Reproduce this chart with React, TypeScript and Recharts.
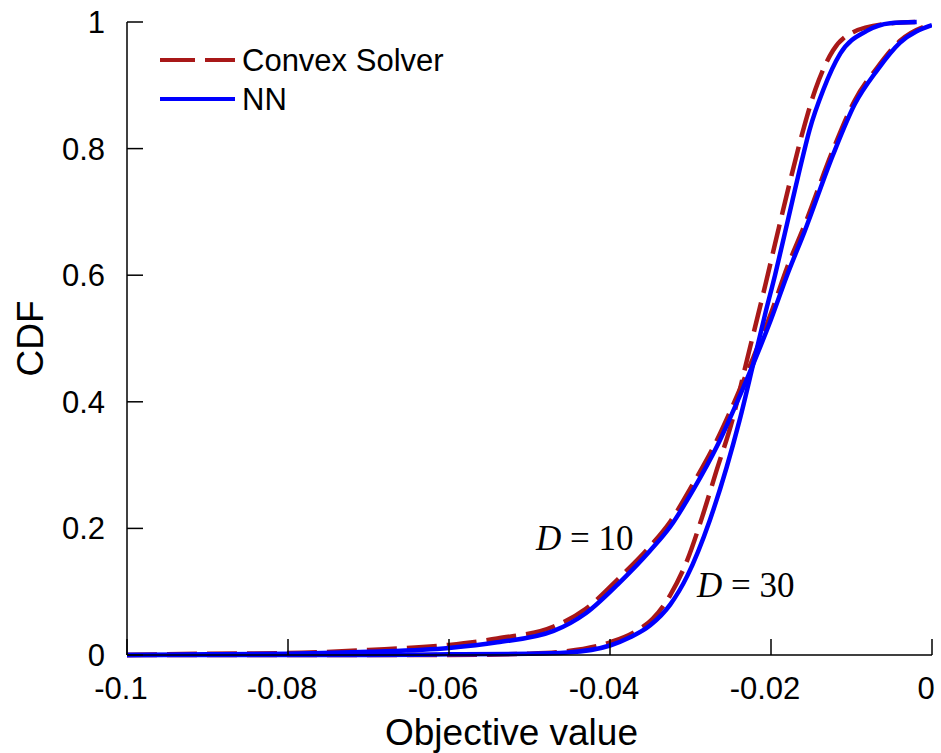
import { LineChart, Line, XAxis, YAxis, ReferenceDot } from "recharts";

// D = 10: both methods sampled on the same objective grid
const d10X = [
  -0.1, -0.09, -0.08, -0.07, -0.06, -0.054, -0.047, -0.043, -0.039, -0.035,
  -0.0325, -0.0297, -0.0267, -0.0242, -0.0222, -0.02, -0.018, -0.0158,
  -0.0123, -0.0096, -0.0068, -0.004, 0,
];
const d10Nn = [
  0, 0.001, 0.002, 0.005, 0.011, 0.02, 0.038, 0.066, 0.112, 0.165, 0.203,
  0.26, 0.33, 0.4, 0.46, 0.53, 0.6, 0.67, 0.79, 0.87, 0.924, 0.967, 0.995,
];
const d10Cvx = [
  0, 0.002, 0.003, 0.008, 0.016, 0.026, 0.045, 0.073, 0.12, 0.172, 0.211,
  0.27, 0.34, 0.41, 0.47, 0.54, 0.612, 0.68, 0.798, 0.876, 0.928, 0.97, 0.997,
];

// D = 30
const d30NnX = [
  -0.1, -0.07, -0.06, -0.05, -0.0453, -0.04, -0.0375, -0.035, -0.0325,
  -0.0304, -0.0276, -0.0255, -0.0239, -0.0222, -0.0207, -0.0195, -0.0183,
  -0.0173, -0.016, -0.0152, -0.0135, -0.0114, -0.0081, -0.0052, -0.0019,
];
const d30Nn = [
  0, 0, 0.001, 0.002, 0.004, 0.015, 0.028, 0.047, 0.08, 0.125, 0.213, 0.297,
  0.371, 0.46, 0.54, 0.6, 0.665, 0.72, 0.79, 0.83, 0.893, 0.95, 0.986, 0.998, 1,
];
const d30CvxX = [
  -0.1, -0.06, -0.05, -0.046, -0.04, -0.037, -0.0347, -0.0325, -0.0304,
  -0.0284, -0.0268, -0.0248, -0.0231, -0.0206, -0.0191, -0.0176, -0.0162,
  -0.0145, -0.0123, -0.0098, -0.0058, -0.0021,
];
const d30Cvx = [
  0, 0, 0.002, 0.005, 0.02, 0.036, 0.057, 0.095, 0.15, 0.224, 0.29, 0.371,
  0.46, 0.59, 0.671, 0.75, 0.82, 0.893, 0.955, 0.984, 0.997, 1,
];

const xTicks = [-0.1, -0.08, -0.06, -0.04, -0.02, 0];
const xTickLabels = ["-0.1", "-0.08", "-0.06", "-0.04", "-0.02", "0"];
const yTicks = [0, 0.2, 0.4, 0.6, 0.8, 1];
const yTickLabels = ["0", "0.2", "0.4", "0.6", "0.8", "1"];

const seriesNames = ["Convex Solver", "NN"];
const curveLabels = [
  { text: "10", x: -0.0492, y: 0.166 },
  { text: "30", x: -0.0292, y: 0.0916 },
];

const RED = "#a81818";
const BLUE = "#0000ff";
const SANS = "'Liberation Sans', Arial, Helvetica, sans-serif";
const SERIF = "'Liberation Serif', 'Times New Roman', serif";

const zip = (xs: number[], ys: number[]) => xs.map((x, i) => ({ x, y: ys[i] }));

const d10NnData = zip(d10X, d10Nn);
const d10CvxData = zip(d10X, d10Cvx);
const d30NnData = zip(d30NnX, d30Nn);
const d30CvxData = zip(d30CvxX, d30Cvx);

// legend sits inside the axes, top-left, without taking layout space
function LegendBox() {
  return (
    <svg
      width={320}
      height={80}
      style={{ position: "absolute", left: 150, top: 35, display: "block" }}
    >
      <line x1={10} x2={85} y1={25} y2={25} stroke={RED} strokeWidth={4} strokeDasharray="35 10" />
      <line x1={10} x2={85} y1={64} y2={64} stroke={BLUE} strokeWidth={4} />
      <text x={92} y={25} dominantBaseline="central" fontFamily={SANS} fontSize={31} fill="#000">
        {seriesNames[0]}
      </text>
      <text x={92} y={64} dominantBaseline="central" fontFamily={SANS} fontSize={31} fill="#000">
        {seriesNames[1]}
      </text>
    </svg>
  );
}

function curveLabel(text: string) {
  return (props: any) => {
    const vb = props.viewBox || {};
    return (
      <text x={vb.x} y={vb.y} fontFamily={SERIF} fontSize={35} fill="#000">
        <tspan fontStyle="italic">D</tspan>
        <tspan> = {text}</tspan>
      </text>
    );
  };
}

export default function App() {
  return (
    <div style={{ position: "absolute", left: 0, top: 0, width: 941, height: 753, background: "#fff" }}>
      <LineChart
        width={941}
        height={753}
        margin={{ top: 22, right: 9, left: 0, bottom: 0 }}
      >
        <XAxis
          type="number"
          dataKey="x"
          domain={[-0.1, 0]}
          ticks={xTicks}
          allowDataOverflow
          height={98}
          axisLine={{ stroke: "#000", strokeWidth: 1.5 }}
          tickLine={{ stroke: "#000", strokeWidth: 1.5 }}
          tickSize={-16}
          tickMargin={38}
          tick={{ fill: "#000", fontSize: 31, fontFamily: SANS, dx: -6 }}
          tickFormatter={(v: number) => xTickLabels[xTicks.indexOf(v)] ?? String(v)}
          label={(props: any) => {
            const vb = props.viewBox || {};
            return (
              <text
                x={vb.x + vb.width / 2 - 18}
                y={745}
                textAnchor="middle"
                fontFamily={SANS}
                fontSize={37}
                fill="#000"
              >
                Objective value
              </text>
            );
          }}
        />
        <YAxis
          type="number"
          dataKey="y"
          domain={[0, 1]}
          ticks={yTicks}
          width={127}
          axisLine={{ stroke: "#000", strokeWidth: 1.5 }}
          tickLine={{ stroke: "#000", strokeWidth: 1.5 }}
          tickSize={-16}
          tickMargin={38}
          tick={{ fill: "#000", fontSize: 31, fontFamily: SANS }}
          tickFormatter={(v: number) => yTickLabels[yTicks.indexOf(v)] ?? String(v)}
          label={(props: any) => {
            const vb = props.viewBox || {};
            const cx = 30;
            const cy = vb.y + vb.height / 2;
            return (
              <text
                x={cx}
                y={cy}
                transform={`rotate(-90, ${cx}, ${cy})`}
                textAnchor="middle"
                dominantBaseline="central"
                fontFamily={SANS}
                fontSize={37}
                fill="#000"
              >
                CDF
              </text>
            );
          }}
        />
        <Line
          data={d10CvxData}
          dataKey="y"
          type="monotone"
          stroke={RED}
          strokeWidth={4.5}
          strokeDasharray="30 10"
          dot={false}
          isAnimationActive={false}
        />
        <Line
          data={d30CvxData}
          dataKey="y"
          type="monotone"
          stroke={RED}
          strokeWidth={4.5}
          strokeDasharray="30 10"
          dot={false}
          isAnimationActive={false}
        />
        <Line
          data={d10NnData}
          dataKey="y"
          type="monotone"
          stroke={BLUE}
          strokeWidth={4.5}
          dot={false}
          isAnimationActive={false}
        />
        <Line
          data={d30NnData}
          dataKey="y"
          type="monotone"
          stroke={BLUE}
          strokeWidth={4.5}
          dot={false}
          isAnimationActive={false}
        />
        {curveLabels.map((c) => (
          <ReferenceDot
            key={c.text}
            x={c.x}
            y={c.y}
            r={0}
            fill="none"
            stroke="none"
            label={curveLabel(c.text)}
          />
        ))}
      </LineChart>
      <LegendBox />
    </div>
  );
}
